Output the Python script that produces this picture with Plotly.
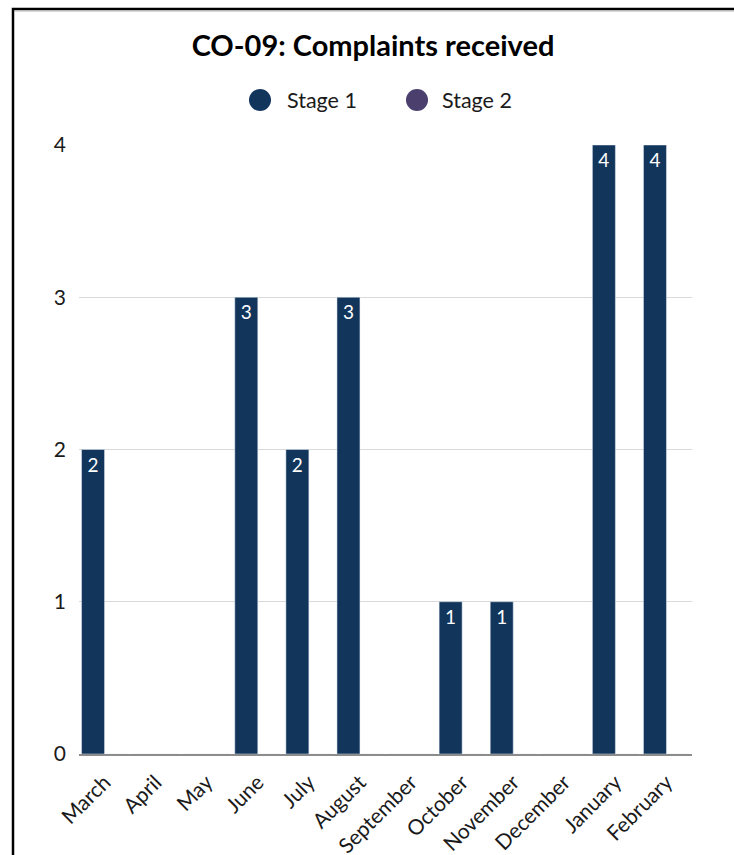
import plotly.graph_objects as go

# Monthly complaint counts by stage
months = ["March", "April", "May", "June", "July", "August", "September",
          "October", "November", "December", "January", "February"]
stage1 = [2, 0, 0, 3, 2, 3, 0, 1, 1, 0, 4, 4]
stage2 = [0, 0, 0, 0, 0, 0, 0, 0, 0, 0, 0, 0]
y_ticks = [0, 1, 2, 3, 4]

COL1 = "#12355b"
COL2 = "#4b3f6e"
FONT = "Lato, 'Open Sans', sans-serif"

W, H = 734, 855
ML, MR, MT, MB = 79, 42, 145, 101
PW, PH = W - ML - MR, H - MT - MB


def px_x(px):
    return (px - ML) / PW


def px_y(py):
    return (H - MB - py) / PH


fig = go.Figure()
fig.add_trace(go.Bar(
    x=months, y=stage1, name="Stage 1", marker_color=COL1,
    text=[str(v) if v else "" for v in stage1],
    textposition="inside", insidetextanchor="end",
    textfont=dict(color="white", size=19, family=FONT),
    showlegend=False,
))
fig.add_trace(go.Bar(
    x=months, y=stage2, name="Stage 2", marker_color=COL2,
    showlegend=False,
))

shapes = [
    # frame around the chart
    dict(type="rect", xref="paper", yref="paper",
         x0=px_x(13), x1=px_x(760), y0=px_y(900), y1=px_y(9),
         line=dict(color="black", width=2.5), layer="above"),
    dict(type="line", xref="paper", yref="paper",
         x0=px_x(15), x1=px_x(760), y0=px_y(11), y1=px_y(11),
         line=dict(color="#b0b0b0", width=1)),
]
annotations = []

# legend: round swatches with labels
legend_items = [("Stage 1", COL1, 260, 285), ("Stage 2", COL2, 417, 440)]
for label, col, cx, tx in legend_items:
    shapes.append(dict(
        type="circle", xref="paper", yref="paper",
        xsizemode="pixel", ysizemode="pixel",
        xanchor=px_x(cx), yanchor=px_y(100),
        x0=-11, x1=11, y0=-11, y1=11,
        fillcolor=col, line=dict(width=0),
    ))
    annotations.append(dict(
        text=label, xref="paper", yref="paper",
        x=px_x(tx), y=px_y(100), xanchor="left", yanchor="middle",
        showarrow=False, font=dict(size=21.5, color="#1a1a1a", family=FONT),
    ))

fig.update_layout(
    width=W, height=H,
    margin=dict(l=ML, r=MR, t=MT, b=MB, autoexpand=False),
    paper_bgcolor="white", plot_bgcolor="white",
    barmode="group", bargap=0.1, bargroupgap=0,
    font=dict(family=FONT, color="#1a1a1a"),
    title=dict(text="<b>CO-09: Complaints received</b>",
               x=373 / W, xanchor="center", y=1 - 46 / H, yanchor="middle",
               font=dict(size=29, color="black", family=FONT)),
    shapes=shapes,
    annotations=annotations,
    showlegend=False,
)
fig.update_xaxes(
    tickangle=-45, tickfont=dict(size=21, color="#1a1a1a", family=FONT),
    showline=True, linecolor="#8c8c8c", linewidth=1.5,
    showgrid=False, ticks="", ticklabelstandoff=6, automargin=False,
)
fig.update_yaxes(
    range=[0, 4], tickvals=y_ticks,
    tickfont=dict(size=21, color="#1a1a1a", family=FONT),
    showgrid=True, gridcolor="#d9d9d9", gridwidth=1,
    zeroline=False, showline=False, ticks="", ticklabelstandoff=12,
    automargin=False,
)

fig.write_html("out.html")
